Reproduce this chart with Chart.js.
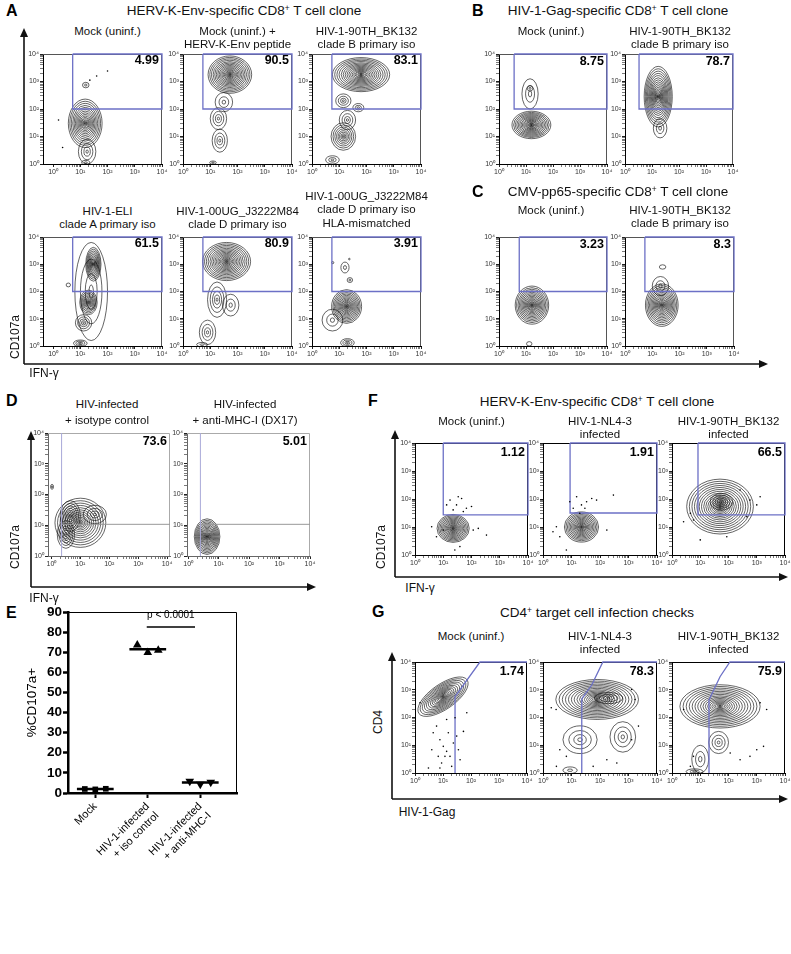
<!DOCTYPE html>
<html><head><meta charset="utf-8">
<script src="https://cdn.jsdelivr.net/npm/chart.js@4"></script>
<style>
body{margin:0;width:791px;height:954px;position:relative;background:#fff;overflow:hidden;font-family:'Liberation Sans',Arial,Helvetica,sans-serif;color:#111}
canvas{position:absolute}
.t{position:absolute;white-space:nowrap;line-height:1;transform:translate(-50%,-50%);color:#111}
.r{transform:translate(-50%,-50%) rotate(-90deg)}
.L{position:absolute;font-weight:bold;font-size:16px;transform:translateY(-50%);color:#000}
sup{font-size:0.62em;vertical-align:0.45em;line-height:0}
svg{position:absolute;left:0;top:0}
</style></head><body>
<svg id="arr" width="791" height="954"></svg>
<script>
// ---------- DATA ----------
const decadeLabels = ['10⁰','10¹','10²','10³','10⁴'];

// percentages in gates
const pctA = ['4.99','90.5','83.1','61.5','80.9','3.91'];
const pctB = ['8.75','78.7'];
const pctC = ['3.23','8.3'];
const pctD = ['73.6','5.01'];
const pctF = ['1.12','1.91','66.5'];
const pctG = ['1.74','78.3','75.9'];

// contour blobs: [centre log10 x, centre log10 y, radius x, radius y, rings, angle]
const blobsA1 = [[1.18,1.48,0.62,0.88,16,0],[1.25,0.45,0.32,0.45,4,0],[1.2,2.87,0.12,0.1,2,0],[1.2,0.05,0.15,0.08,2,0]];
const blobsA2 = [[1.72,3.25,0.8,0.68,18,0],[1.5,2.25,0.32,0.35,3,0],[1.3,1.65,0.3,0.4,4,0],[1.35,0.85,0.28,0.42,4,0],[1.1,0.05,0.12,0.06,2,0]];
const blobsA3 = [[1.8,3.25,1.05,0.62,18,0],[1.15,2.3,0.28,0.25,4,0],[1.7,2.05,0.2,0.15,3,0],[1.3,1.6,0.3,0.35,4,0],[1.15,1.0,0.45,0.5,9,0],[0.75,0.15,0.25,0.15,3,0]];
const blobsA4 = [[1.4,2.0,0.6,1.8,4,0],[1.48,3.0,0.28,0.62,13,0],[1.3,1.6,0.32,0.45,11,0],[1.12,0.85,0.3,0.3,5,0],[1.0,0.1,0.25,0.12,4,0],[0.56,2.24,0.08,0.07,1,0]];
const blobsA5 = [[1.6,3.1,0.88,0.7,18,0],[1.25,1.7,0.35,0.65,5,0],[1.75,1.5,0.3,0.4,3,0],[0.9,0.5,0.3,0.45,4,0],[0.7,0.05,0.2,0.08,2,0]];
const blobsA6 = [[1.27,1.45,0.55,0.62,16,0],[0.75,0.95,0.38,0.4,3,0],[1.3,0.12,0.25,0.15,4,0],[1.21,2.88,0.15,0.2,2,0],[1.39,2.42,0.1,0.09,2,0],[0.76,3.06,0.04,0.04,1,0],[1.37,3.19,0.03,0.03,1,0]];
const blobsB1 = [[1.2,1.42,0.72,0.5,17,0],[1.15,2.55,0.3,0.55,3,0],[1.15,2.75,0.1,0.1,2,0]];
const blobsB2 = [[1.23,2.45,0.52,1.1,18,0],[1.3,1.3,0.25,0.35,3,0]];
const blobsC1 = [[1.22,1.5,0.62,0.7,17,0],[1.12,0.08,0.1,0.08,1,0]];
const blobsC2 = [[1.35,1.5,0.6,0.78,17,0],[1.3,2.2,0.3,0.35,3,0],[1.38,2.9,0.12,0.08,1,0]];
const blobsD1 = [[1.0,1.08,0.88,0.8,14,0],[0.65,1.3,0.35,0.5,8,0],[0.5,0.7,0.3,0.45,7,0],[1.5,1.35,0.4,0.3,4,0],[0.02,2.25,0.05,0.08,2,0]];
const blobsD2 = [[0.62,0.63,0.42,0.58,17,0]];
const blobsF1 = [[1.35,0.95,0.57,0.5,16,0]];
const blobsF2 = [[1.35,1.0,0.6,0.54,16,0]];
const blobsF3 = [[1.7,1.73,1.18,0.98,18,0],[1.75,1.9,0.4,0.3,6,0]];
const blobsG1 = [[1.0,2.75,1.05,0.45,16,-35]];
const blobsG2 = [[1.9,2.65,1.45,0.72,18,0],[2.3,2.7,0.5,0.2,4,0],[2.8,1.3,0.45,0.55,4,0],[1.3,1.2,0.6,0.5,4,0],[0.95,0.1,0.25,0.12,2,0]];
const blobsG3 = [[1.7,2.4,1.42,0.78,18,0],[1.65,1.1,0.35,0.4,4,0],[1.0,0.5,0.3,0.5,3,0],[0.8,0.05,0.3,0.1,3,0]];

// single events (log10 x, log10 y)
const dotsA1 = [[1.6,3.2],[2.0,3.38],[1.35,3.05],[0.35,0.6],[0.2,1.6]];
const dotsF1 = [[1.24,1.96],[1.47,1.79],[1.65,2.02],[1.82,1.67],[1.35,1.61],[2.0,1.73],[1.12,1.79],[1.53,2.08],[1.71,1.55],[1.0,0.89],[0.59,1.01],[0.76,0.65],[2.06,0.89],[2.24,0.95],[2.53,0.71],[1.41,0.18],[1.59,0.3]];
const dotsF2 = [[0.94,1.9],[1.18,2.08],[1.35,1.79],[1.53,1.9],[1.71,2.02],[1.06,1.67],[1.88,1.96],[2.47,2.14],[0.47,1.01],[0.35,0.83],[0.59,0.65],[1.47,1.67],[1.29,1.49],[2.24,0.89],[0.82,0.18]];
const dotsF3 = [[0.65,1.49],[0.76,1.25],[2.76,1.96],[3.0,1.79],[3.12,2.08],[2.65,1.37],[1.94,0.65],[1.0,0.54],[2.41,2.32],[0.41,1.19]];
const dotsG1 = [[0.65,1.45],[0.89,1.2],[1.01,0.96],[1.13,0.78],[1.25,0.6],[0.83,0.6],[1.37,1.08],[1.19,1.45],[1.55,0.84],[0.95,0.36],[1.31,0.24],[1.61,0.48],[0.77,1.69],[1.13,1.93],[1.49,1.33],[1.07,0.6],[0.6,0.84],[1.43,1.99],[1.73,1.5],[0.89,0.18],[0.48,0.18],[1.85,2.17],[0.18,2.53]];
const dotsG2 = [[0.29,2.35],[0.46,2.29],[3.11,3.01],[3.23,2.65],[0.59,0.84],[0.82,0.6],[2.24,0.48],[2.59,0.36],[1.76,0.24],[3.11,1.2],[3.35,1.69],[0.47,0.24]];
const dotsG3 = [[0.41,2.29],[3.12,2.53],[3.35,2.29],[3.0,0.84],[2.76,0.6],[3.24,0.96],[0.76,0.6],[2.06,0.72],[2.41,0.48],[0.65,0.24]];

// gate thresholds (log10 x low, log10 y low)
const gateA = [[0.72,2],[0.73,2],[0.73,2],[0.72,2],[0.73,2],[0.73,2]];
const gateB = [[0.56,2],[0.52,2]];
const gateC = [[0.75,2],[0.73,2]];
const gateD = [[0.35,1.03],[0.4,1.03]];
const gateF = [[1.0,1.43],[0.95,1.5],[0.92,1.43]];
const gateG1 = [[1.43,0],[1.43,2.75],[2.32,4],[4,4]];
const gateG2 = [[1.36,0],[1.36,2.67],[1.71,3.17],[2.1,4],[4,4]];
const gateG3 = [[1.31,0],[1.31,2.63],[1.7,3.47],[2.05,4],[4,4]];

// panel E
const eCategories = ['Mock',['HIV-1-infected','+ iso control'],['HIV-1-infected','+ anti-MHC-I']];
const eMock = [2.0,1.8,2.1];
const eIso = [73.6,69.8,71.0];
const eAnti = [5.8,4.3,5.4];
const eJitter = [-0.2,0,0.2];
const eP = 'p < 0.0001';

// ---------- PLUMBING ----------
Chart.defaults.font.family = "'Liberation Sans', Arial, Helvetica, sans-serif";
const GATE = '#6c70c6';

const flowPlugin = {
  id:'flow',
  beforeDatasetsDraw(chart){
    const o = chart.options.plugins.flow; if(!o) return;
    const {ctx, chartArea:a, scales:{x,y}} = chart;
    const ppx = Math.abs(x.getPixelForValue(1)-x.getPixelForValue(0));
    const ppy = Math.abs(y.getPixelForValue(1)-y.getPixelForValue(0));
    ctx.save();
    ctx.strokeStyle = o.frame; ctx.lineWidth = 1;
    ctx.beginPath(); ctx.moveTo(a.left, a.top+0.5); ctx.lineTo(a.right-0.5, a.top+0.5); ctx.lineTo(a.right-0.5, a.bottom); ctx.stroke();
    ctx.beginPath(); ctx.rect(a.left,a.top,a.right-a.left,a.bottom-a.top); ctx.clip();
    ctx.strokeStyle = '#111'; ctx.lineWidth = 0.65;
    for(const [cx,cy,rx,ry,n,ang] of (o.blobs||[])){
      const px = x.getPixelForValue(cx), py = y.getPixelForValue(cy);
      for(let k=1;k<=n;k++){
        const s = Math.pow(k/n,1.45);
        ctx.beginPath();
        ctx.ellipse(px,py,Math.max(0.6,rx*ppx*s),Math.max(0.6,ry*ppy*s),(ang||0)*Math.PI/180,0,Math.PI*2);
        ctx.stroke();
      }
    }
    ctx.restore();
  },
  afterDraw(chart){
    const o = chart.options.plugins.flow; if(!o || !o.pct) return;
    const {ctx, chartArea:a} = chart;
    ctx.save(); ctx.fillStyle='#000'; ctx.font = "bold 12.5px 'Liberation Sans', Arial, sans-serif";
    ctx.textAlign='right'; ctx.textBaseline='middle';
    ctx.fillText(o.pct, a.right-3, a.top+o.pctDy);
    ctx.restore();
  }
};
Chart.register(flowPlugin);

function logAxis(min,max,axis,color){
  return {
    type:'linear', min, max,
    afterBuildTicks(s){
      const t=[];
      for(let d=0;d<=4;d++){ t.push({value:d}); if(d<4) for(let k=2;k<=9;k++) t.push({value:d+Math.log10(k)}); }
      s.ticks = t.filter(o=>o.value>=min-1e-9 && o.value<=max+1e-9);
    },
    afterFit(s){ if(axis==='x') s.height=14; else s.width=22; },
    ticks:{autoSkip:false,maxRotation:0,minRotation:0,padding:1,font:{size:7},color:'#333',
      callback:(v)=>{const r=Math.round(v); return Math.abs(v-r)<1e-6 ? decadeLabels[r] : '';}},
    grid:{drawOnChartArea:false,drawTicks:true,tickLength:3,tickColor:'#222',
      tickWidth:(c)=> (c.tick && Math.abs(c.tick.value-Math.round(c.tick.value))<1e-6) ? 1 : 0.6},
    border:{display:true,color:color,width:1}
  };
}

function flowPlot(p){
  const padL=22,padT=6,padR=10,padB=14;
  const cv=document.createElement('canvas');
  cv.width=p.w+padL+padR; cv.height=p.h+padT+padB;
  cv.style.left=(p.left-padL)+'px'; cv.style.top=(p.top-padT)+'px';
  document.body.appendChild(cv);
  const datasets=[];
  if(p.dots) datasets.push({data:p.dots.map(([x,y])=>({x,y})),pointRadius:0.8,pointBackgroundColor:'#000',pointBorderWidth:0,showLine:false});
  for(const g of p.gates) datasets.push({data:g.pts.map(([x,y])=>({x,y})),showLine:true,borderColor:g.color,borderWidth:g.w||1.3,pointRadius:0,clip:4,fill:false,tension:0});
  new Chart(cv,{type:'scatter',data:{datasets},options:{
    responsive:false,animation:false,devicePixelRatio:1,
    layout:{padding:{top:padT,right:padR,left:0,bottom:0}},
    plugins:{legend:{display:false},tooltip:{enabled:false},
      flow:{blobs:p.blobs,frame:p.frame||'#555',pct:p.pct,pctDy:p.pctDy||7}},
    scales:{x:logAxis(p.xmin??0,p.xmax??4,'x',p.axis||'#000'), y:logAxis(0,4,'y',p.axis||'#000')}
  }});
}
function rectGate(gx,gy,xmax){ return [[gx,4],[gx,gy],[xmax,gy],[xmax,4],[gx,4]]; }

// ---------- PANEL A/B/C ----------
const posA = [[43,54,119,110,-0.37],[183,54,109,110,0],[312,54,109,110,0],[43,237,119,109,-0.37],[183,237,109,109,0],[312,237,109,109,0]];
const blobsA = [blobsA1,blobsA2,blobsA3,blobsA4,blobsA5,blobsA6];
posA.forEach((q,i)=>flowPlot({left:q[0],top:q[1],w:q[2],h:q[3],xmin:q[4],blobs:blobsA[i],dots:i===0?dotsA1:null,
  gates:[{pts:rectGate(gateA[i][0],gateA[i][1],4),color:GATE}],pct:pctA[i],pctDy:7}));
const posB = [[499,54,108,110],[625,54,108,110]];
[blobsB1,blobsB2].forEach((b,i)=>flowPlot({left:posB[i][0],top:posB[i][1],w:posB[i][2],h:posB[i][3],blobs:b,
  gates:[{pts:rectGate(gateB[i][0],gateB[i][1],4),color:GATE}],pct:pctB[i],pctDy:8}));
const posC = [[499,237,108,109],[625,237,109,109]];
[blobsC1,blobsC2].forEach((b,i)=>flowPlot({left:posC[i][0],top:posC[i][1],w:posC[i][2],h:posC[i][3],blobs:b,
  gates:[{pts:rectGate(gateC[i][0],gateC[i][1],4),color:GATE}],pct:pctC[i],pctDy:8}));

// ---------- PANEL D ----------
const posD = [[48,433,122,123,-0.12,4.1],[187,433,123,123,-0.04,4.0]];
[blobsD1,blobsD2].forEach((b,i)=>flowPlot({left:posD[i][0],top:posD[i][1],w:posD[i][2],h:posD[i][3],xmin:posD[i][4],xmax:posD[i][5],blobs:b,
  frame:'#aaa',axis:'#666',
  gates:[{pts:[[gateD[i][0],0],[gateD[i][0],4]],color:'#a9a9d8',w:1},{pts:[[gateD[i][0],gateD[i][1]],[posD[i][5],gateD[i][1]]],color:'#999',w:1}],
  pct:pctD[i],pctDy:9}));

// ---------- PANEL F ----------
const posF = [[415,443,113,112],[543,443,114,112],[672,443,113,112]];
[[blobsF1,dotsF1],[blobsF2,dotsF2],[blobsF3,dotsF3]].forEach(([b,d],i)=>flowPlot({left:posF[i][0],top:posF[i][1],w:posF[i][2],h:posF[i][3],blobs:b,dots:d,
  frame:'#000',gates:[{pts:rectGate(gateF[i][0],gateF[i][1],4),color:GATE}],pct:pctF[i],pctDy:10}));

// ---------- PANEL G ----------
const posG = [[415,662,112,111],[543,662,114,111],[672,662,113,111]];
[[blobsG1,dotsG1,gateG1],[blobsG2,dotsG2,gateG2],[blobsG3,dotsG3,gateG3]].forEach(([b,d,g],i)=>flowPlot({left:posG[i][0],top:posG[i][1],w:posG[i][2],h:posG[i][3],blobs:b,dots:d,
  frame:'#000',gates:[{pts:g,color:GATE}],pct:pctG[i],pctDy:10}));

// ---------- PANEL E ----------
(function(){
  const cv=document.createElement('canvas');
  cv.width=230; cv.height=300; cv.style.left='20px'; cv.style.top='596px';
  document.body.appendChild(cv);
  const groups=[eMock,eIso,eAnti];
  const styles=['rect','triangle','triangle'];
  const mean=a=>a.reduce((s,v)=>s+v,0)/a.length;
  const ds=[];
  groups.forEach((g,i)=>ds.push({data:g.map((v,j)=>({x:i+eJitter[j],y:v})),pointStyle:styles[i],pointRadius:i===0?4:5,
    rotation:i===2?180:0,backgroundColor:'#000',borderColor:'#000',borderWidth:0,clip:false}));
  groups.forEach((g,i)=>ds.push({type:'line',data:[{x:i-0.35,y:mean(g)},{x:i+0.35,y:mean(g)}],borderColor:'#000',borderWidth:2.5,pointRadius:0,clip:false}));
  ds.push({type:'line',data:[{x:0.98,y:82.6},{x:1.9,y:82.6}],borderColor:'#000',borderWidth:1.5,pointRadius:0});
  const pPlugin={id:'ptext',afterDraw(c){const {ctx,scales:{x,y}}=c;ctx.save();ctx.fillStyle='#000';
    ctx.font="10px 'Liberation Sans', Arial, sans-serif";ctx.textAlign='center';ctx.textBaseline='middle';
    ctx.fillText(eP,x.getPixelForValue(1.44),y.getPixelForValue(88.6));ctx.restore();}};
  new Chart(cv,{type:'scatter',data:{datasets:ds},plugins:[pPlugin],options:{
    responsive:false,animation:false,devicePixelRatio:1,
    layout:{padding:{top:16,right:13,left:0,bottom:0}},
    plugins:{legend:{display:false},tooltip:{enabled:false}},
    scales:{
      x:{type:'linear',min:-0.52,max:2.7,
        afterBuildTicks(s){s.ticks=[0,1,2].map(v=>({value:v}));},
        afterFit(s){s.height=103;},
        ticks:{autoSkip:false,minRotation:45,maxRotation:45,font:{size:11},color:'#000',padding:2,callback:v=>eCategories[v]},
        grid:{drawOnChartArea:false,tickLength:5,tickWidth:2,tickColor:'#000'},
        border:{width:2.5,color:'#000'}},
      y:{min:0,max:90,afterFit(s){s.width=48;},
        ticks:{stepSize:10,font:{size:13.5,weight:'bold'},color:'#000',padding:1},
        title:{display:true,text:'%CD107a+',font:{size:13.5},color:'#000',padding:{top:4,bottom:2}},
        grid:{drawOnChartArea:false,tickLength:5,tickWidth:2.5,tickColor:'#000'},
        border:{width:2.5,color:'#000'}}
    }}});
})();

// ---------- TEXT ----------
function T(html,x,y,size,cls){const d=document.createElement('div');d.className='t'+(cls?' '+cls:'');d.innerHTML=html;
  d.style.left=x+'px';d.style.top=y+'px';d.style.fontSize=size+'px';document.body.appendChild(d);}
function Lt(s,x,y){const d=document.createElement('div');d.className='L';d.textContent=s;d.style.left=x+'px';d.style.top=y+'px';document.body.appendChild(d);}
function stack(lines,x,y,size,gap){lines.forEach((l,i)=>T(l,x,y+i*gap,size));}

Lt('A',6,11); Lt('B',472,11); Lt('C',472,192); Lt('D',6,401); Lt('E',6,613); Lt('F',368,401); Lt('G',372,612);
const ttl=13.5;
T('HERV-K-Env-specific CD8<sup>+</sup> T cell clone',244,11,ttl);
T('HIV-1-Gag-specific CD8<sup>+</sup> T cell clone',618,11,ttl);
T('CMV-pp65-specific CD8<sup>+</sup> T cell clone',618,192,ttl);
T('HERV-K-Env-specific CD8<sup>+</sup> T cell clone',597,402,ttl);
T('CD4<sup>+</sup> target cell infection checks',597,613,ttl);

const sub=11.5, gap=13.4;
stack(['Mock (uninf.)'],107.5,31.5,sub,gap);
stack(['Mock (uninf.) +','HERV-K-Env peptide'],237.5,31.5,sub,gap);
stack(['HIV-1-90TH_BK132','clade B primary iso'],366.5,31.5,sub,gap);
stack(['HIV-1-ELI','clade A primary iso'],107.5,211.5,sub,gap);
stack(['HIV-1-00UG_J3222M84','clade D primary iso'],237.5,211.5,sub,gap);
stack(['HIV-1-00UG_J3222M84','clade D primary iso','HLA-mismatched'],366.5,197,sub,gap);
stack(['Mock (uninf.)'],551,31.5,sub,gap);
stack(['HIV-1-90TH_BK132','clade B primary iso'],680,31.5,sub,gap);
stack(['Mock (uninf.)'],551,210.5,sub,gap);
stack(['HIV-1-90TH_BK132','clade B primary iso'],680,210.5,sub,gap);
stack(['HIV-infected','+ isotype control'],107,405,sub,gap+3);
stack(['HIV-infected','+ anti-MHC-I (DX17)'],245,405,sub,gap+3);
stack(['Mock (uninf.)'],471.5,421.5,sub,gap);
stack(['HIV-1-NL4-3','infected'],600,421.5,sub,gap);
stack(['HIV-1-90TH_BK132','infected'],728.5,421.5,sub,gap);
stack(['Mock (uninf.)'],471,637,sub,gap);
stack(['HIV-1-NL4-3','infected'],600,637,sub,gap);
stack(['HIV-1-90TH_BK132','infected'],728.5,637,sub,gap);

const ax=12;
T('CD107a',15,337,ax,'r'); T('IFN-γ',44,373,ax);
T('CD107a',15,547,ax,'r'); T('IFN-γ',44,598,ax);
T('CD107a',381,547,ax,'r'); T('IFN-γ',420,588,ax);
T('CD4',378,722,ax,'r'); T('HIV-1-Gag',427,812,ax);

// ---------- AXIS ARROWS ----------
const arrows=[[24,364,24,28],[24,364,768,364],[31,587,31,431],[31,587,316,587],[395,577,395,430],[395,577,788,577],[392,799,392,652],[392,799,788,799]];
const svg=document.getElementById('arr');
let h='';
arrows.forEach(([x1,y1,x2,y2])=>{
  const ang=Math.atan2(y2-y1,x2-x1), L=9, W=4;
  const bx=x2-L*Math.cos(ang), by=y2-L*Math.sin(ang);
  h+=`<line x1="${x1}" y1="${y1}" x2="${bx}" y2="${by}" stroke="#111" stroke-width="1.6"/>`;
  const px=-Math.sin(ang)*W, py=Math.cos(ang)*W;
  h+=`<polygon points="${x2},${y2} ${bx+px},${by+py} ${bx-px},${by-py}" fill="#111"/>`;
});
svg.innerHTML=h;
</script>
</body></html>
